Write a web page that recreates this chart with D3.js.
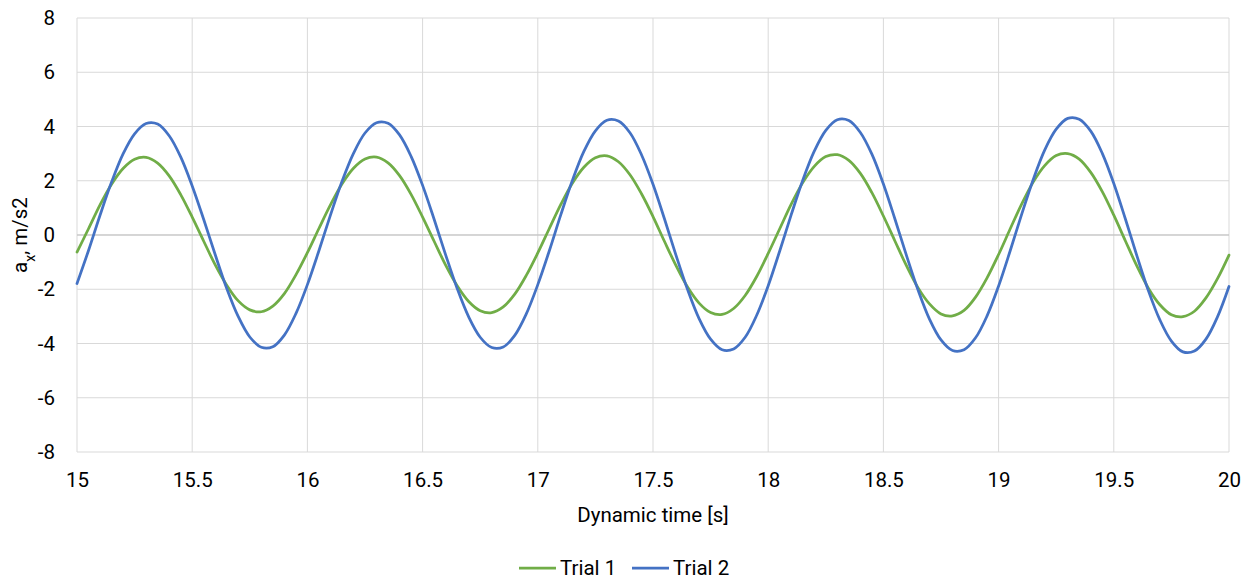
<!DOCTYPE html>
<html>
<head>
<meta charset="utf-8">
<script src="https://cdn.jsdelivr.net/npm/d3@7"></script>
<style>
  html, body { margin: 0; padding: 0; background: #fff; }
  svg { display: block; }
  text { font-family: "Roboto", "Liberation Sans", sans-serif; fill: #000; }
</style>
</head>
<body>
<div id="chart"></div>
<script>
// time axis, 0.05 s steps from 15 to 20
const times = d3.range(0, 101).map(i => +(15 + i * 0.05).toFixed(2));

// Trial 1 (green), every 0.05 s
const trial1 = [
  -0.63, 0.23, 1.11, 1.87, 2.45, 2.79, 2.86, 2.65, 2.18, 1.49, 0.66,
  -0.23, -1.10, -1.85, -2.43, -2.76, -2.83, -2.62, -2.16, -1.47, -0.65,
  0.24, 1.11, 1.88, 2.46, 2.80, 2.87, 2.66, 2.19, 1.50, 0.66,
  -0.23, -1.11, -1.87, -2.45, -2.79, -2.86, -2.65, -2.18, -1.49, -0.66,
  0.24, 1.13, 1.91, 2.50, 2.85, 2.92, 2.70, 2.22, 1.52, 0.68,
  -0.24, -1.13, -1.92, -2.51, -2.86, -2.93, -2.71, -2.23, -1.53, -0.68,
  0.23, 1.14, 1.93, 2.53, 2.89, 2.96, 2.75, 2.27, 1.56, 0.70,
  -0.22, -1.13, -1.94, -2.54, -2.91, -2.98, -2.78, -2.29, -1.58, -0.72,
  0.22, 1.14, 1.95, 2.56, 2.93, 3.00, 2.80, 2.31, 1.60, 0.73,
  -0.21, -1.14, -1.96, -2.57, -2.94, -3.01, -2.81, -2.32, -1.61, -0.74
];

// Trial 2 (blue)
const trial2 = [
  -1.79, -0.57, 0.73, 1.95, 2.99, 3.73, 4.11, 4.09, 3.66, 2.88, 1.81,
  0.57, -0.73, -1.97, -3.01, -3.76, -4.14, -4.12, -3.69, -2.90, -1.83,
  -0.58, 0.73, 1.97, 3.01, 3.76, 4.14, 4.12, 3.69, 2.90, 1.83,
  0.58, -0.73, -1.97, -3.02, -3.77, -4.15, -4.13, -3.70, -2.91, -1.83,
  -0.58, 0.75, 2.01, 3.08, 3.84, 4.23, 4.20, 3.77, 2.96, 1.87,
  0.59, -0.75, -2.01, -3.08, -3.84, -4.23, -4.20, -3.77, -2.96, -1.87,
  -0.59, 0.75, 2.02, 3.09, 3.86, 4.25, 4.22, 3.78, 2.98, 1.88,
  0.59, -0.75, -2.02, -3.10, -3.87, -4.26, -4.23, -3.79, -2.98, -1.88,
  -0.59, 0.76, 2.04, 3.13, 3.90, 4.30, 4.27, 3.83, 3.01, 1.90,
  0.60, -0.76, -2.05, -3.13, -3.91, -4.31, -4.28, -3.84, -3.02, -1.90
];

const xTicks = [15, 15.5, 16, 16.5, 17, 17.5, 18, 18.5, 19, 19.5, 20];
const yTicks = [-8, -6, -4, -2, 0, 2, 4, 6, 8];

const seriesNames = ["Trial 1", "Trial 2"];
const seriesColors = ["#70ad47", "#4472c4"];
const seriesValues = [trial1, trial2];

const width = 1250, height = 579;
const margin = { top: 18, right: 21, bottom: 127, left: 77 };
const innerW = width - margin.left - margin.right;
const innerH = height - margin.top - margin.bottom;

const svg = d3.select("#chart").append("svg")
  .attr("width", width)
  .attr("height", height);

const g = svg.append("g").attr("transform", `translate(${margin.left},${margin.top})`);

const x = d3.scaleLinear().domain([15, 20]).range([0, innerW]);
const y = d3.scaleLinear().domain([-8, 8]).range([innerH, 0]);

// gridlines
g.append("g")
  .selectAll("line")
  .data(yTicks)
  .join("line")
  .attr("x1", 0).attr("x2", innerW)
  .attr("y1", d => y(d)).attr("y2", d => y(d))
  .attr("stroke", "#d9d9d9")
  .attr("stroke-width", 1);

g.append("g")
  .selectAll("line")
  .data(xTicks)
  .join("line")
  .attr("x1", d => x(d)).attr("x2", d => x(d))
  .attr("y1", 0).attr("y2", innerH)
  .attr("stroke", "#d9d9d9")
  .attr("stroke-width", 1);

// horizontal axis line sits at zero
g.append("line")
  .attr("x1", 0).attr("x2", innerW)
  .attr("y1", y(0)).attr("y2", y(0))
  .attr("stroke", "#bfbfbf")
  .attr("stroke-width", 1);

// tick labels (plain hyphen for negatives, like the original)
const yAxis = d3.axisLeft(y).tickValues(yTicks).tickSize(0).tickPadding(22)
  .tickFormat(d => String(d));
g.append("g").call(yAxis)
  .call(s => s.select(".domain").remove())
  .selectAll("text")
  .attr("font-size", 20.5)
  .attr("fill", "#000");

const xAxis = d3.axisBottom(x).tickValues(xTicks).tickSize(0).tickPadding(20)
  .tickFormat(d => String(d));
g.append("g").attr("transform", `translate(0,${innerH})`).call(xAxis)
  .call(s => s.select(".domain").remove())
  .selectAll("text")
  .attr("font-size", 20.5)
  .attr("fill", "#000");

// lines
const line = d3.line()
  .x((d, i) => x(times[i]))
  .y(d => y(d))
  .curve(d3.curveCatmullRom.alpha(0.5));

g.append("g")
  .selectAll("path")
  .data(seriesValues)
  .join("path")
  .attr("d", line)
  .attr("fill", "none")
  .attr("stroke", (d, i) => seriesColors[i])
  .attr("stroke-width", 2.75)
  .attr("stroke-linejoin", "round")
  .attr("stroke-linecap", "round");

// axis titles
svg.append("text")
  .attr("x", margin.left + innerW / 2)
  .attr("y", 522)
  .attr("text-anchor", "middle")
  .attr("font-size", 20.5)
  .text("Dynamic time [s]");

const yTitle = svg.append("text")
  .attr("transform", `translate(27,${margin.top + innerH / 2}) rotate(-90)`)
  .attr("text-anchor", "middle")
  .attr("font-size", 20.5);
yTitle.append("tspan").text("a");
yTitle.append("tspan").attr("baseline-shift", "sub").attr("font-size", 14).text("x");
yTitle.append("tspan").text(", m/s2");

// legend
const legend = svg.append("g").attr("transform", "translate(519,568)");
const legendX = [0, 113];
const items = legend.selectAll("g")
  .data(seriesNames)
  .join("g")
  .attr("transform", (d, i) => `translate(${legendX[i]},0)`);
items.append("line")
  .attr("x1", 0).attr("x2", 37)
  .attr("y1", 0).attr("y2", 0)
  .attr("stroke", (d, i) => seriesColors[i])
  .attr("stroke-width", 2.75);
items.append("text")
  .attr("x", 41)
  .attr("y", 0)
  .attr("dy", "0.35em")
  .attr("font-size", 20.5)
  .text(d => d);
</script>
</body>
</html>
